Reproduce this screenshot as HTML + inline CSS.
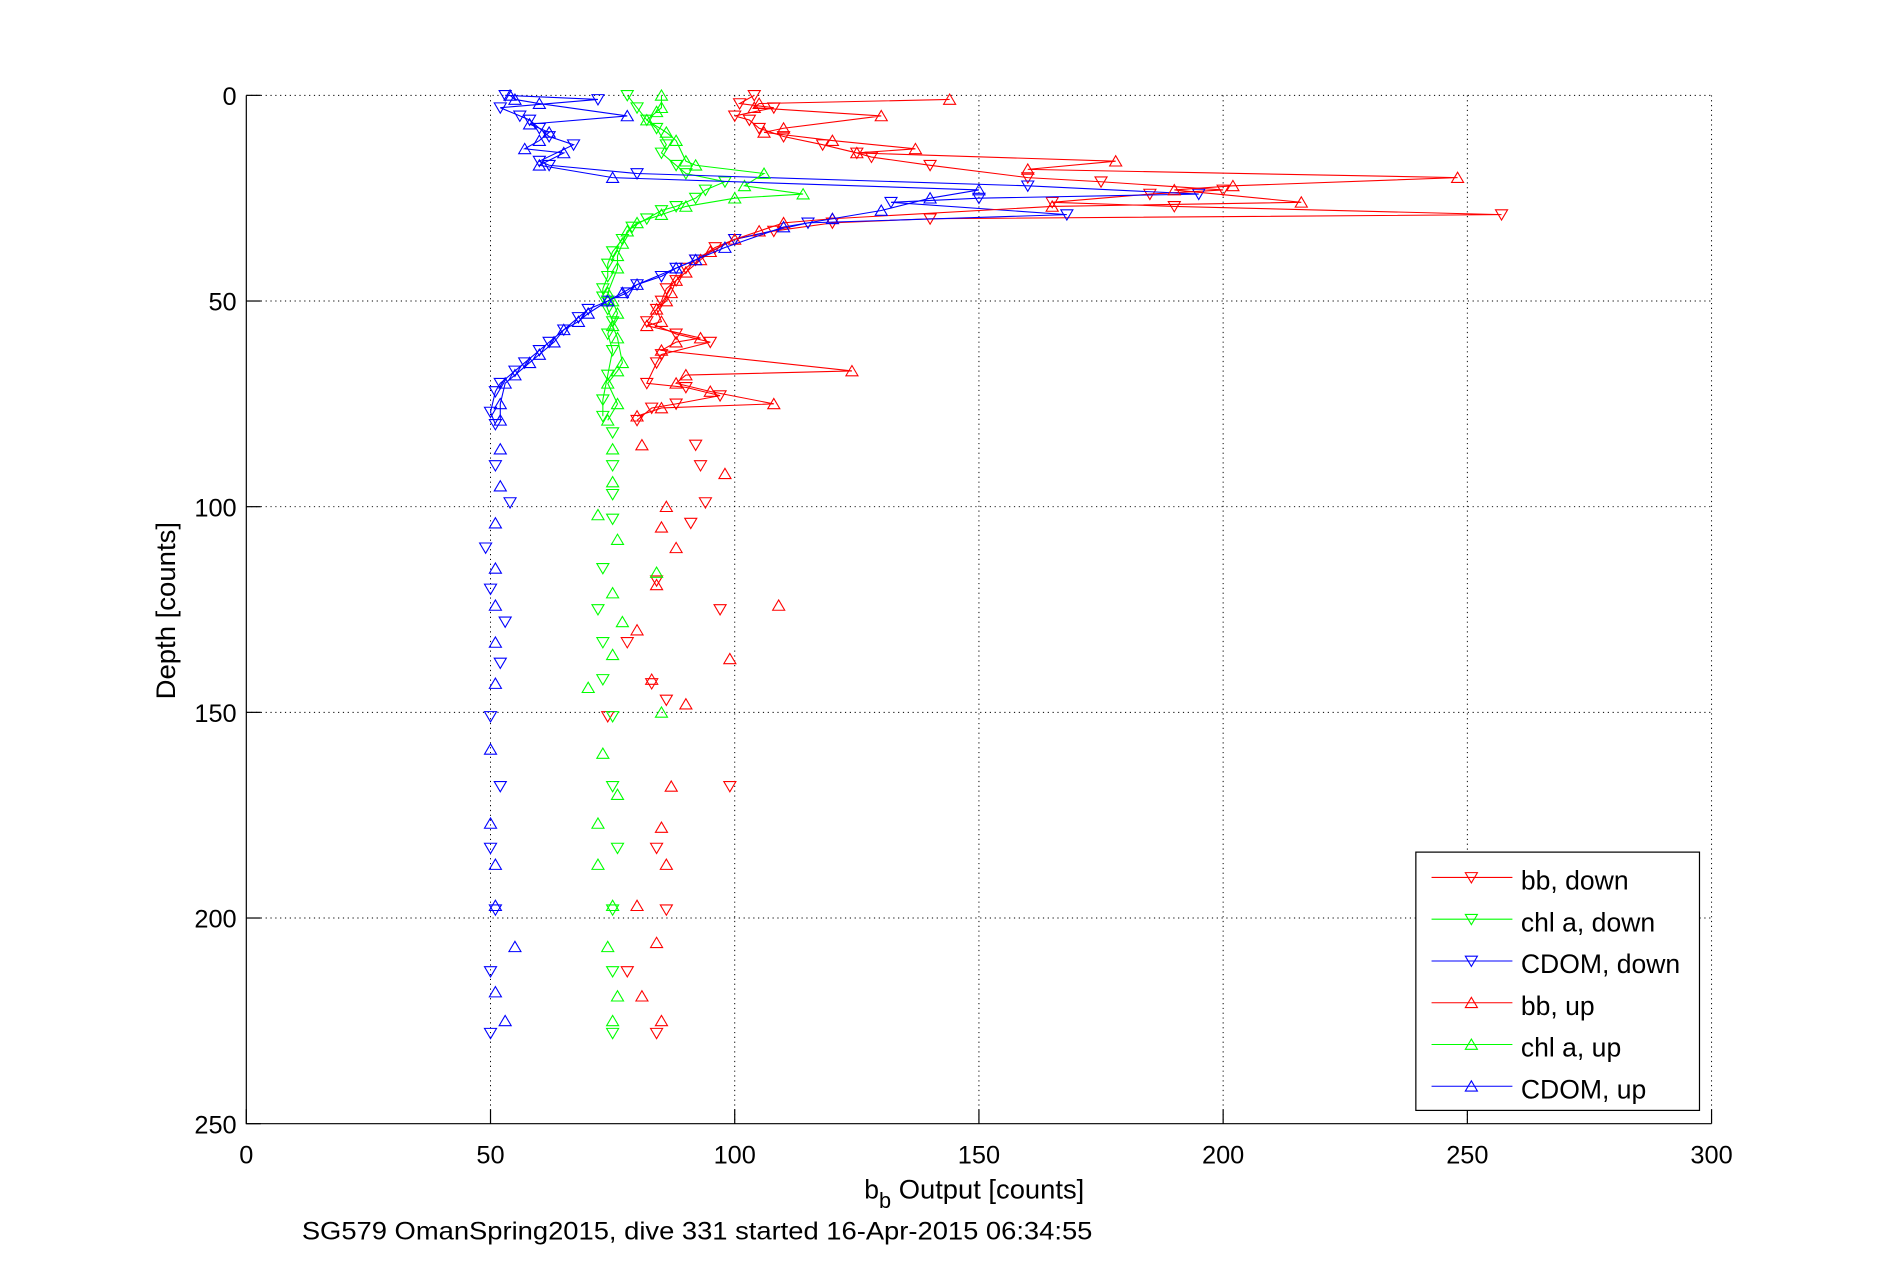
<!DOCTYPE html>
<html><head><meta charset="utf-8"><style>
html,body{margin:0;padding:0;background:#fff;}
svg{display:block;font-family:"Liberation Sans",sans-serif;}
</style></head><body>
<svg id="chart" width="1891" height="1262" viewBox="0 0 1566.6 1045.6" xmlns="http://www.w3.org/2000/svg"></svg>
<script>
// ---- data (value, depth) ----
const bbDownVal = [104,101,108,100,103,105,110,118,125,128,140,160,175,200,185,165,190,257,140,120,108,100,96,92,90,88,86,85,84,82,88,95,85,84,82,90,97,88,83,80,null,92,93,94,91,84,97,78,83,86,74,99,84,86,78,84];
const bbDownDep = [0,2,3,5,6,8,10,12,14,15,17,20,21,23,24,26,27,29,30,31,33,35,37,40,42,45,47,50,52,55,58,60,63,65,70,71,73,75,76,79,null,85,90,99,104,118,125,133,143,147,151,168,183,198,213,228];
const bbUpVal = [144,105,104,130,110,106,120,137,125,178,160,248,202,190,216,165,120,110,105,100,95,93,90,88,87,86,84,85,82,93,88,85,124,90,88,95,108,85,80,null,81,98,86,85,88,84,109,80,99,83,90,87,85,86,80,84,81,85];
const bbUpDep = [1,2,3,5,8,9,11,13,14,16,18,20,22,23,26,27,30,31,33,35,38,40,43,45,48,50,52,55,56,59,60,62,67,68,70,72,75,76,78,null,85,92,100,105,110,119,124,130,137,142,148,168,178,187,197,206,219,225];
const chlDownVal = [78,80,82,84,86,85,88,90,98,94,92,88,85,82,79,77,75,74,74,73,73,74,75,74,75,74,73,73,null,75,75,75,75,73,72,73,73,75,75,76,75,75,75];
const chlDownDep = [0,3,6,8,12,14,17,19,21,23,25,27,28,30,32,35,38,41,44,47,49,52,55,58,62,68,74,78,null,82,90,97,103,115,125,133,142,151,168,183,198,213,228];
const chlUpVal = [85,85,84,82,86,88,90,92,106,102,114,100,90,85,80,78,77,76,76,74,75,76,75,76,77,76,74,76,74,null,75,75,72,76,84,75,77,75,70,85,73,76,72,72,75,74,76,75];
const chlUpDep = [0,3,4,6,9,11,16,17,19,22,24,25,27,29,31,33,36,39,42,48,50,53,56,59,65,67,70,75,79,null,86,94,102,108,116,121,128,136,144,150,160,170,177,187,197,207,219,225];
const cdomDownVal = [53,72,52,56,58,60,62,67,60,62,80,160,195,150,132,168,115,100,92,88,85,80,78,74,70,68,65,62,60,57,55,52,51,50,51,null,51,54,49,50,53,52,50,52,50,51,50,50];
const cdomDownDep = [0,1,3,5,6,8,10,12,16,17,19,22,24,25,26,29,31,35,40,42,44,46,48,50,52,54,57,60,62,65,67,70,72,77,80,null,90,99,110,120,128,138,151,168,183,198,213,228];
const cdomUpVal = [54,55,60,78,58,62,60,57,65,60,75,150,140,130,120,110,98,92,88,80,77,74,70,68,65,63,60,58,55,53,52,52,null,52,52,51,51,51,51,51,50,50,51,51,55,51,53];
const cdomUpDep = [0,1,2,5,7,9,11,13,14,17,20,23,25,28,30,32,37,40,42,46,48,50,53,55,57,60,63,65,68,70,75,79,null,86,95,104,115,124,133,143,159,177,187,197,207,218,225];
const xTicks = [0,50,100,150,200,250,300];
const yTicks = [0,50,100,150,200,250];

const NS='http://www.w3.org/2000/svg';
const svg=document.getElementById('chart');
const X0=204,X1=1418,Y0=79,Y1=931;
const xs=v=>X0+(v-0)/300*(X1-X0);
const ys=d=>Y0+d/250*(Y1-Y0);
function mk(tag,attrs,parent){const e=document.createElementNS(NS,tag);for(const k in attrs)e.setAttribute(k,attrs[k]);(parent||svg).appendChild(e);return e;}

// grid
xTicks.forEach(t=>{ if(t>0){const g=mk('line',{x1:xs(t),x2:xs(t),y1:Y0,y2:Y1,stroke:'#000','stroke-width':0.8,'stroke-dasharray':'1,3'});

}});
yTicks.forEach(t=>{ if(t<250){const g=mk('line',{x1:X0,x2:X1,y1:ys(t),y2:ys(t),stroke:'#000','stroke-width':0.8,'stroke-dasharray':'1,3'});

}});
// axes
const ax=mk('path',{d:`M${X0},${Y0}V${Y1}H${X1}`,fill:'none',stroke:'#000','stroke-width':1});


xTicks.forEach(t=>{
 const l=mk('line',{x1:xs(t),x2:xs(t),y1:Y1,y2:Y1-12,stroke:'#000','stroke-width':1});
 
 
 const tx=mk('text',{x:xs(t),y:Y1+33,'text-anchor':'middle','font-size':21});tx.textContent=t;
 
 
});
yTicks.forEach(t=>{
 const l=mk('line',{x1:X0,x2:X0+12,y1:ys(t),y2:ys(t),stroke:'#000','stroke-width':1});
 
 
 const tx=mk('text',{x:X0-8,y:ys(t)+8,'text-anchor':'end','font-size':21});tx.textContent=t;
 
 
});

function tri(x,y,down,col,parent){
 const s=5;
 const d=down?`M${x-s},${y-s*0.8}L${x+s},${y-s*0.8}L${x},${y+s*0.9}Z`:`M${x-s},${y+s*0.8}L${x+s},${y+s*0.8}L${x},${y-s*0.9}Z`;
 return mk('path',{d:d,fill:'none',stroke:col,'stroke-width':0.9},parent);
}
function series(vals,deps,col,down,name){
 const g=mk('g',{});
 
 
 let d2='';const br=vals.indexOf(null);
 for(let i=0;i<(br<0?vals.length:br);i++) d2+=(i?'L':'M')+xs(vals[i])+','+ys(deps[i]);
 const ln=mk('path',{d:d2,fill:'none',stroke:col,'stroke-width':0.9},g);
 
 
 for(let i=0;i<vals.length;i++){ if(vals[i]===null)continue;
  const m=tri(xs(vals[i]),ys(deps[i]),down,col,g);
  
  
 }
}
series(bbDownVal,bbDownDep,'#ff0000',true,'bb-down');
series(chlDownVal,chlDownDep,'#00ff00',true,'chl-down');
series(cdomDownVal,cdomDownDep,'#0000ff',true,'cdom-down');
series(bbUpVal,bbUpDep,'#ff0000',false,'bb-up');
series(chlUpVal,chlUpDep,'#00ff00',false,'chl-up');
series(cdomUpVal,cdomUpDep,'#0000ff',false,'cdom-up');

// legend
const lg=mk('g',{});


const lb=mk('rect',{x:1173,y:706,width:235,height:214,fill:'#fff',stroke:'#000','stroke-width':1},lg);


const legLabels=['bb, down','chl a, down','CDOM, down','bb, up','chl a, up','CDOM, up'];
const legCols=['#ff0000','#00ff00','#0000ff','#ff0000','#00ff00','#0000ff'];
legLabels.forEach((t,i)=>{
 const y=727+i*34.6;
 const e=mk('g',{},lg);
 
 
 mk('line',{x1:1186,x2:1253,y1:y,y2:y,stroke:legCols[i],'stroke-width':0.9},e);
 tri(1219,y,i<3,legCols[i],e);
 const tx=mk('text',{x:1260,y:y+10,'font-size':22},e);tx.textContent=t;
});

const xl=mk('text',{x:716,y:993,'font-size':22});
xl.innerHTML='b<tspan dy="8" font-size="18">b</tspan><tspan dy="-8" textLength="160" lengthAdjust="spacingAndGlyphs"> Output [counts]</tspan>';


const yl=mk('text',{x:0,y:0,'text-anchor':'middle','font-size':22,textLength:147,lengthAdjust:'spacingAndGlyphs',transform:'translate(145,506) rotate(-90)'});
yl.textContent='Depth [counts]';


const st=mk('text',{x:250,y:1027,'font-size':21,textLength:655,lengthAdjust:'spacingAndGlyphs'});
st.textContent='SG579 OmanSpring2015, dive 331 started 16-Apr-2015 06:34:55';


</script>
</body></html>
